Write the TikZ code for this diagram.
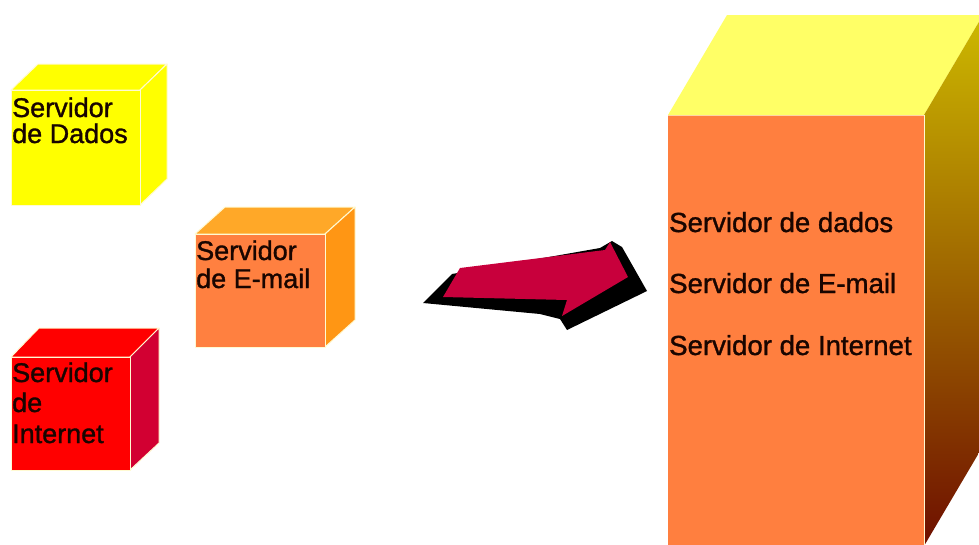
\documentclass[tikz,border=0pt]{standalone}
\usepackage{fontspec}
\setmainfont{Liberation Sans}
\newfontfamily\heavyfont{Liberation Sans}[BoldFont={Liberation Sans}, BoldFeatures={FakeBold=1.2}]
\definecolor{ylw}{RGB}{255,255,0}
\definecolor{emfront}{RGB}{255,128,64}
\definecolor{emtop}{RGB}{255,168,40}
\definecolor{emright}{RGB}{255,150,20}
\definecolor{rdfront}{RGB}{255,0,0}
\definecolor{rdright}{RGB}{210,0,50}
\definecolor{bigfront}{RGB}{255,127,63}
\definecolor{bigtop}{RGB}{255,255,102}
\definecolor{bigrtop}{RGB}{205,185,0}
\definecolor{bigrbot}{RGB}{110,15,0}
\definecolor{arrowred}{RGB}{200,0,60}
\definecolor{edgecol}{RGB}{255,250,210}
\definecolor{txtcol}{RGB}{25,5,0}
\begin{document}
\begin{tikzpicture}[x=1pt,y=-1pt,
  face/.style={draw=edgecol, line width=1pt, line join=round},
  lbl/.style={anchor=base west, inner sep=0pt, text=txtcol, font=\heavyfont\bfseries\fontsize{27}{27}\selectfont},
  biglbl/.style={anchor=base west, inner sep=0pt, text=txtcol, font=\heavyfont\bfseries\fontsize{27.6}{27.6}\selectfont}]
\useasboundingbox (0,0) rectangle (979,544);
\fill[white] (0,0) rectangle (979,544);
\begin{scope}
\clip (0,0) rectangle (979,544);
% yellow cube (Servidor de Dados)
\fill[ylw, face] (11,90) -- (38,64) -- (167,64) -- (140,90) -- cycle;
\fill[ylw, face] (140,90) -- (167,64) -- (167,179) -- (140,205) -- cycle;
\fill[ylw, face] (11,90) rectangle (140,205);
\node[lbl] (d1) at (12,117) {Servidor};
\node[lbl] (d2) at (12,143) {de Dados};
% e-mail cube
\fill[emtop, face] (195,234) -- (225,207) -- (355,207) -- (325,234) -- cycle;
\fill[emright, face] (325,234) -- (355,207) -- (355,320) -- (325,347) -- cycle;
\fill[emfront, face] (195,234) rectangle (325,347);
\node[lbl] (e1) at (196,260) {Servidor};
\node[lbl] (e2) at (196,288) {de E-mail};
% red cube
\fill[rdfront, face] (11,357) -- (39,328) -- (159,328) -- (130,357) -- cycle;
\fill[rdright, face] (130,357) -- (159,328) -- (159,443) -- (130,470) -- cycle;
\fill[rdfront, face] (11,357) rectangle (130,470);
\node[lbl] (i1) at (12,382) {Servidor};
\node[lbl] (i2) at (12,412) {de};
\node[lbl] (i3) at (12,443) {Internet};
% arrow
\fill[black] (423,303) -- (452,274) -- (600,248) -- (612,241) -- (622,247) -- (647,291) -- (567,330) -- (560,319) -- (540,314) -- cycle;
\fill[arrowred] (443,297) -- (460,268) -- (605,250) -- (610,242) -- (628,277) -- (562,316) -- (567,300) -- cycle;
% big box
\fill[bigtop] (668,115) -- (727,15) -- (983,15) -- (924,115) -- cycle;
\shade[top color=bigrtop, bottom color=bigrbot] (924,115) -- (983,15) -- (983,446) -- (924,546) -- cycle;
\fill[bigfront] (668,115) rectangle (924,548);
\draw[edgecol, line width=1pt] (924,115) -- (924,548);
\draw[edgecol!70!bigfront, line width=1pt] (668,115) -- (924,115);
\end{scope}
\node[biglbl] (b1) at (669,232) {Servidor de dados};
\node[biglbl] (b2) at (669,293) {Servidor de E-mail};
\node[biglbl] (b3) at (669,355) {Servidor de Internet};
\end{tikzpicture}
\end{document}
